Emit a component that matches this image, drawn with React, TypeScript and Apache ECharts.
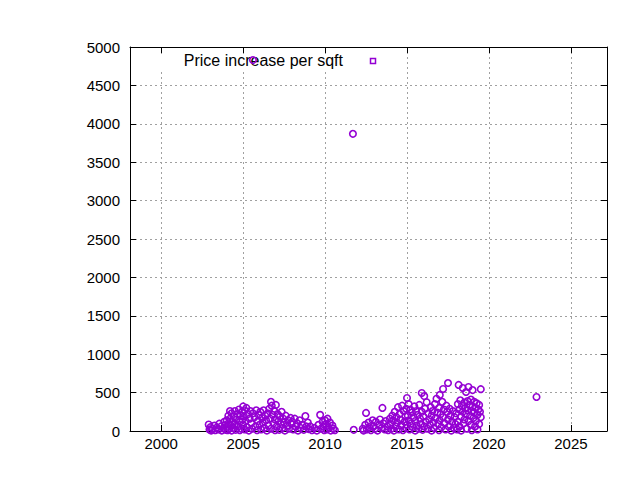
import { useEffect, useRef } from "react";
import * as echarts from "echarts";

const xTicks = [2000, 2005, 2010, 2015, 2020, 2025];
const seriesName = "Price increase per sqft";

// [year, price increase per sqft]
const y2003 = [
  [2002.9, 85], [2002.95, 20], [2003.0, 50], [2003.05, 5], [2003.15, 30], [2003.25, 70],
  [2003.3, 10], [2003.4, 45], [2003.5, 20], [2003.55, 95], [2003.65, 60], [2003.7, 5],
  [2003.8, 35], [2003.85, 120], [2003.9, 75], [2003.95, 15],
];
const y2004 = [
  [2004.0, 140], [2004.0, 55], [2004.05, 10], [2004.1, 200], [2004.1, 100], [2004.15, 30],
  [2004.2, 260], [2004.2, 160], [2004.25, 70], [2004.3, 5], [2004.3, 230], [2004.35, 120],
  [2004.4, 40], [2004.45, 190], [2004.5, 260], [2004.5, 90], [2004.55, 15], [2004.6, 150],
  [2004.65, 220], [2004.7, 60], [2004.75, 280], [2004.8, 120], [2004.8, 10], [2004.85, 200],
  [2004.9, 30], [2004.95, 250], [2004.95, 150],
];
const y2005 = [
  [2005.0, 320], [2005.0, 80], [2005.05, 190], [2005.1, 20], [2005.1, 270], [2005.15, 130],
  [2005.2, 300], [2005.25, 50], [2005.3, 220], [2005.35, 5], [2005.4, 160], [2005.45, 260],
  [2005.5, 100], [2005.55, 30], [2005.6, 230], [2005.7, 180], [2005.75, 60], [2005.8, 270],
  [2005.85, 10], [2005.9, 130], [2005.95, 210],
];
const y2006 = [
  [2006.0, 80], [2006.05, 250], [2006.1, 20], [2006.15, 170], [2006.2, 110], [2006.25, 270],
  [2006.3, 40], [2006.35, 200], [2006.4, 140], [2006.45, 5], [2006.5, 230], [2006.55, 70],
  [2006.6, 290], [2006.65, 160], [2006.7, 380], [2006.7, 30], [2006.75, 330], [2006.8, 210],
  [2006.85, 100], [2006.9, 260], [2006.95, 10], [2006.95, 150],
];
const y2007 = [
  [2007.0, 340], [2007.05, 60], [2007.1, 220], [2007.15, 130], [2007.2, 15], [2007.25, 190],
  [2007.3, 90], [2007.35, 250], [2007.4, 40], [2007.45, 160], [2007.5, 110], [2007.55, 5],
  [2007.6, 200], [2007.7, 70], [2007.75, 140], [2007.8, 30], [2007.9, 170], [2007.95, 90],
];
const y2008 = [
  [2008.0, 120], [2008.05, 20], [2008.15, 160], [2008.2, 60], [2008.3, 100], [2008.35, 5],
  [2008.45, 140], [2008.5, 40], [2008.6, 80], [2008.7, 15], [2008.8, 195], [2008.85, 60],
  [2008.95, 110], [2009.0, 25],
];
const y2009 = [
  [2009.1, 60], [2009.2, 10], [2009.35, 40], [2009.5, 5], [2009.6, 80], [2009.7, 210],
  [2009.75, 30], [2009.85, 120], [2009.9, 60], [2009.95, 10], [2010.0, 140], [2010.05, 90],
  [2010.1, 20], [2010.15, 160], [2010.2, 50], [2010.3, 110], [2010.35, 5], [2010.45, 70],
  [2010.5, 30], [2010.6, 10],
];
const y2012 = [
  [2012.3, 30], [2012.35, 5], [2012.45, 80], [2012.5, 235], [2012.55, 20], [2012.65, 110],
  [2012.7, 50], [2012.8, 10], [2012.9, 140], [2012.95, 60], [2013.05, 30], [2013.1, 120],
  [2013.2, 5], [2013.3, 80], [2013.35, 150], [2013.45, 40], [2013.5, 300], [2013.55, 100],
  [2013.65, 20], [2013.7, 130], [2013.8, 60], [2013.85, 10], [2013.95, 160],
];
const y2014 = [
  [2014.0, 90], [2014.05, 30], [2014.1, 200], [2014.15, 140], [2014.2, 5], [2014.25, 250],
  [2014.3, 60], [2014.35, 180], [2014.4, 110], [2014.45, 310], [2014.5, 20], [2014.55, 220],
  [2014.6, 150], [2014.65, 70], [2014.7, 330], [2014.75, 10], [2014.8, 260], [2014.85, 120],
  [2014.9, 190], [2014.95, 40], [2014.95, 290],
];
const y2015 = [
  [2015.0, 430], [2015.0, 80], [2015.05, 200], [2015.1, 350], [2015.1, 140], [2015.15, 20],
  [2015.2, 280], [2015.25, 100], [2015.3, 240], [2015.35, 50], [2015.4, 180], [2015.45, 320],
  [2015.5, 5], [2015.5, 130], [2015.55, 260], [2015.6, 70], [2015.65, 210], [2015.7, 30],
  [2015.75, 340], [2015.8, 160], [2015.85, 90], [2015.9, 495], [2015.9, 250], [2015.95, 15],
];
const y2016 = [
  [2016.0, 190], [2016.05, 455], [2016.05, 60], [2016.1, 290], [2016.15, 120], [2016.2, 375],
  [2016.25, 30], [2016.3, 230], [2016.35, 150], [2016.4, 80], [2016.45, 310], [2016.5, 5],
  [2016.5, 200], [2016.55, 260], [2016.6, 110], [2016.65, 40], [2016.7, 350], [2016.75, 170],
  [2016.8, 420], [2016.85, 240], [2016.9, 90], [2016.95, 300], [2016.95, 10],
];
const y2017 = [
  [2017.0, 470], [2017.0, 140], [2017.05, 220], [2017.1, 50], [2017.15, 380], [2017.2, 547],
  [2017.2, 180], [2017.25, 280], [2017.3, 100], [2017.35, 20], [2017.4, 330], [2017.45, 250],
  [2017.5, 625], [2017.5, 150], [2017.55, 60], [2017.6, 290], [2017.65, 200], [2017.7, 5],
  [2017.75, 120], [2017.8, 260], [2017.85, 40], [2017.9, 180], [2017.95, 90],
];
const y2018 = [
  [2018.0, 230], [2018.05, 20], [2018.1, 350], [2018.1, 120], [2018.15, 600], [2018.2, 280],
  [2018.2, 60], [2018.25, 400], [2018.3, 190], [2018.3, 5], [2018.35, 330], [2018.4, 250],
  [2018.4, 560], [2018.45, 100], [2018.5, 370], [2018.5, 150], [2018.55, 300], [2018.6, 508],
  [2018.6, 220], [2018.65, 30], [2018.7, 390], [2018.7, 270], [2018.75, 573], [2018.75, 130],
  [2018.8, 340], [2018.85, 200], [2018.9, 80], [2018.9, 410], [2018.95, 260], [2018.95, 10],
];
const y2019 = [
  [2019.0, 533], [2019.0, 320], [2019.05, 170], [2019.1, 380], [2019.1, 240], [2019.15, 60],
  [2019.2, 300], [2019.2, 130], [2019.25, 360], [2019.3, 210], [2019.3, 20], [2019.35, 280],
  [2019.4, 340], [2019.4, 90], [2019.45, 250], [2019.5, 545], [2019.5, 180],
];
const outliers = [[2005.6, 4830], [2011.7, 3870], [2011.75, 15], [2022.9, 443]];

const points = [
  ...y2003, ...y2004, ...y2005, ...y2006, ...y2007, ...y2008, ...y2009,
  ...y2012, ...y2014, ...y2015, ...y2016, ...y2017, ...y2018, ...y2019, ...outliers,
];

const purple = "#9400d3";
const font = "Liberation Sans, Arial, sans-serif";

export default function App() {
  const chartRef = useRef<HTMLDivElement>(null);

  useEffect(() => {
    if (!chartRef.current) return;
    const chart = echarts.init(chartRef.current, null, { renderer: "svg" });

    const gridLine = { show: true, lineStyle: { color: "#a0a0a0", type: [2, 3], width: 1 } };
    const tick = (values?: number[]) => ({
      show: true,
      inside: true,
      length: 6,
      lineStyle: { color: "#000" },
      ...(values ? { customValues: values } : {}),
    });

    chart.setOption({
      animation: false,
      backgroundColor: "#fff",
      grid: { left: 130, right: 33, top: 47, bottom: 49 },
      xAxis: [
        {
          type: "value",
          min: 1998.1,
          max: 2027.2,
          axisLine: { show: true, lineStyle: { color: "#000", width: 1 } },
          axisTick: tick(xTicks),
          axisLabel: {
            customValues: xTicks,
            formatter: (v: number) => String(v),
            color: "#000",
            fontFamily: font,
            fontSize: 15,
            margin: 5,
          },
          splitLine: gridLine,
        },
        {
          type: "value",
          position: "top",
          min: 1998.1,
          max: 2027.2,
          axisLine: { show: true, onZero: false, lineStyle: { color: "#000", width: 1 } },
          axisTick: tick(xTicks),
          axisLabel: { show: false },
          splitLine: { show: false },
        },
      ],
      yAxis: [
        {
          type: "value",
          min: 0,
          max: 5000,
          interval: 500,
          axisLine: { show: true, lineStyle: { color: "#000", width: 1 } },
          axisTick: tick(),
          axisLabel: {
            formatter: (v: number) => String(v),
            color: "#000",
            fontFamily: font,
            fontSize: 15,
            margin: 10,
          },
          splitLine: gridLine,
        },
        {
          type: "value",
          position: "right",
          min: 0,
          max: 5000,
          interval: 500,
          axisLine: { show: true, onZero: false, lineStyle: { color: "#000", width: 1 } },
          axisTick: tick(),
          axisLabel: { show: false },
          splitLine: { show: false },
        },
      ],
      graphic: [
        { type: "rect", z: 1, shape: { x: 131, y: 54, width: 264, height: 16 }, style: { fill: "#fff" } },
        {
          type: "text",
          z: 1,
          x: 343,
          y: 60,
          style: {
            text: seriesName,
            fill: "#000",
            font: `16px ${font}`,
            textAlign: "right",
            textVerticalAlign: "middle",
          },
        },
        {
          type: "rect",
          z: 3,
          shape: { x: 370.5, y: 58.5, width: 5, height: 5 },
          style: { fill: "none", stroke: purple, lineWidth: 1.5 },
        },
      ],
      series: [
        {
          name: seriesName,
          type: "scatter",
          data: points,
          symbol: "circle",
          symbolSize: 6.5,
          itemStyle: { color: "rgba(0,0,0,0)", borderColor: purple, borderWidth: 1.6, opacity: 1 },
          z: 5,
        },
      ],
    });

    return () => chart.dispose();
  }, []);

  return (
    <div
      ref={chartRef}
      style={{ position: "absolute", left: 0, top: 0, width: 640, height: 480 }}
    />
  );
}
